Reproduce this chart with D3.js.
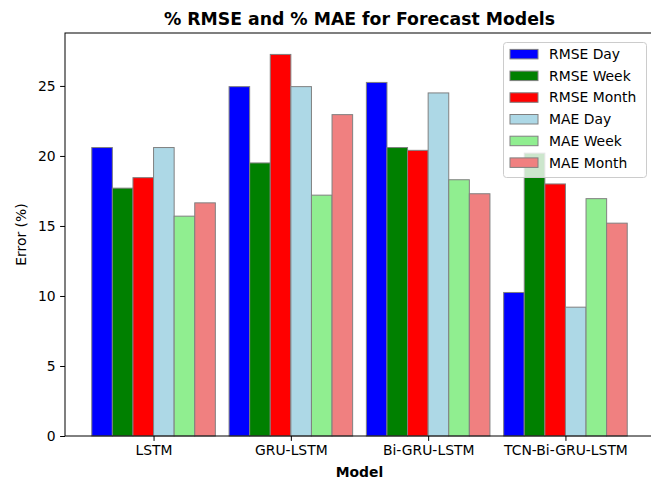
<!DOCTYPE html>
<html><head><meta charset="utf-8">
<script src="https://cdn.jsdelivr.net/npm/d3@7"></script>
<style>
html,body{margin:0;padding:0;background:#fff;}
svg{display:block;font-family:"DejaVu Sans",sans-serif;}
</style></head>
<body><svg id="chart" width="651" height="482"></svg>
<script>
const models = ["LSTM", "GRU-LSTM", "Bi-GRU-LSTM", "TCN-Bi-GRU-LSTM"];
const seriesNames = ["RMSE Day", "RMSE Week", "RMSE Month", "MAE Day", "MAE Week", "MAE Month"];
const seriesColors = ["#0000ff", "#008000", "#ff0000", "#add8e6", "#90ee90", "#f08080"];
const rmseDay   = [20.6, 24.95, 25.25, 10.25];
const rmseWeek  = [17.7, 19.5, 20.6, 20.2];
const rmseMonth = [18.45, 27.25, 20.4, 18.0];
const maeDay    = [20.6, 24.95, 24.5, 9.2];
const maeWeek   = [15.7, 17.2, 18.3, 16.95];
const maeMonth  = [16.65, 22.95, 17.3, 15.2];
const yTicks = [0, 5, 10, 15, 20, 25];

const series = [rmseDay, rmseWeek, rmseMonth, maeDay, maeWeek, maeMonth];
const svg = d3.select("#chart");
const L = 65, R = 654, T = 33, B = 436;
const barW = 0.15;
const FS = "13.9px";
const x = d3.scaleLinear().domain([-0.645, 3.645]).range([L, R]);
const y = d3.scaleLinear().domain([0, 28.78]).range([B, T]);

// bars
series.forEach((vals, s) => {
  svg.append("g").selectAll("rect").data(vals).join("rect")
    .attr("x", (d, i) => x(i + (s - 2.5) * barW - barW / 2))
    .attr("width", x(barW) - x(0))
    .attr("y", d => y(d))
    .attr("height", d => y(0) - y(d))
    .attr("fill", seriesColors[s])
    .attr("stroke", "#808080")
    .attr("stroke-width", 1);
});

// axes
const yAxis = d3.axisLeft(y).tickValues(yTicks).tickSize(4.9).tickPadding(4.5).tickFormat(d3.format("d"));
const gy = svg.append("g").attr("transform", `translate(${L},0)`).call(yAxis);
const xAxis = d3.axisBottom(x).tickValues(d3.range(models.length)).tickSize(4.9).tickPadding(4.5).tickFormat(i => models[i]);
const gx = svg.append("g").attr("transform", `translate(0,${B})`).call(xAxis);
[gx, gy].forEach(g => {
  g.select(".domain").remove();
  g.selectAll("text").attr("font-size", FS).attr("fill", "#000").attr("font-family", "DejaVu Sans");
  g.selectAll("line").attr("stroke", "#000").attr("stroke-width", 1);
});
// spines
svg.append("rect").attr("x", L).attr("y", T).attr("width", R - L).attr("height", B - T)
  .attr("fill", "none").attr("stroke", "#000").attr("stroke-width", 1);

// title & labels
svg.append("text").attr("x", (L + R) / 2).attr("y", 25).attr("text-anchor", "middle")
  .attr("font-size", "17.3px").attr("font-weight", "bold").text("% RMSE and % MAE for Forecast Models");
svg.append("text").attr("x", (L + R) / 2).attr("y", 477).attr("text-anchor", "middle")
  .attr("font-size", FS).attr("font-weight", "bold").text("Model");
svg.append("text").attr("transform", `translate(26,${(T + B) / 2}) rotate(-90)`).attr("text-anchor", "middle")
  .attr("font-size", FS).text("Error (%)");

// legend
const lg = svg.append("g").attr("transform", "translate(503,42)");
lg.append("rect").attr("x", 0.5).attr("y", 0.5).attr("width", 143).attr("height", 135).attr("rx", 3)
  .attr("fill", "#fff").attr("fill-opacity", 0.8).attr("stroke", "#cccccc").attr("stroke-width", 1);
seriesNames.forEach((nm, i) => {
  const cy = 12 + i * 21.7;
  lg.append("rect").attr("x", 7).attr("y", cy - 4.6).attr("width", 28).attr("height", 9.5)
    .attr("fill", seriesColors[i]).attr("stroke", "#808080").attr("stroke-width", 1);
  lg.append("text").attr("x", 46).attr("y", cy).attr("dy", "0.36em")
    .attr("font-size", FS).text(nm);
});
</script></body></html>
